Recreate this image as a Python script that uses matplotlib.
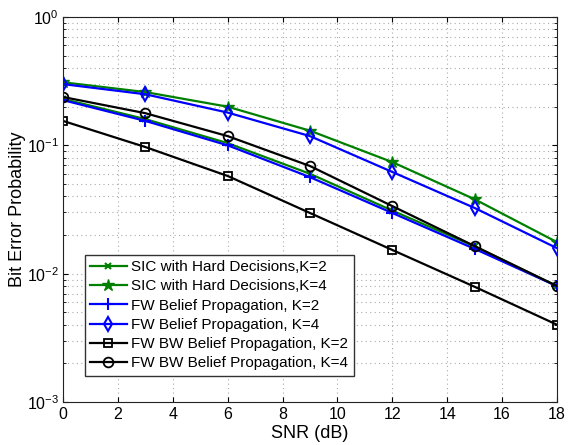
import matplotlib
matplotlib.use("Agg")
import matplotlib.pyplot as plt
from matplotlib.ticker import LogLocator, NullFormatter

plt.rcParams['font.family'] = ['Liberation Sans', 'DejaVu Sans']
plt.rcParams['mathtext.fontset'] = 'custom'
plt.rcParams['mathtext.rm'] = 'Liberation Sans'

snr = [0, 3, 6, 9, 12, 15, 18]
sic_k2 = [0.23, 0.16, 0.104, 0.060, 0.031, 0.0163, 0.0080]
sic_k4 = [0.31, 0.26, 0.20, 0.13, 0.074, 0.038, 0.0176]
fw_k2 = [0.225, 0.155, 0.100, 0.0565, 0.0297, 0.0156, 0.0080]
fw_k4 = [0.30, 0.25, 0.18, 0.118, 0.062, 0.0325, 0.0158]
fwbw_k2 = [0.155, 0.097, 0.0577, 0.0297, 0.0153, 0.0079, 0.0040]
fwbw_k4 = [0.238, 0.178, 0.118, 0.069, 0.0336, 0.0164, 0.0080]

labels = ["SIC with Hard Decisions,K=2", "SIC with Hard Decisions,K=4",
          "FW Belief Propagation, K=2", "FW Belief Propagation, K=4",
          "FW BW Belief Propagation, K=2", "FW BW Belief Propagation, K=4"]

fig = plt.figure(figsize=(5.68, 4.45), dpi=100)
ax = fig.add_axes([63/568, 1-402/445, (557-63)/568, (402-17)/445])

green = '#008000'
blue = '#0000ff'
lw = 1.6
ax.plot(snr, sic_k2, color=green, lw=lw, marker='x', ms=4, mew=1.5, label=labels[0])
ax.plot(snr, sic_k4, color=green, lw=lw, marker='*', ms=9, label=labels[1])
ax.plot(snr, fw_k2, color=blue, lw=lw, marker='+', ms=8, mew=1.5, label=labels[2])
ax.plot(snr, fw_k4, color=blue, lw=lw, marker='d', ms=7, mfc='none', mew=1.5, label=labels[3])
ax.plot(snr, fwbw_k2, color='black', lw=lw, marker='s', ms=6, mfc='none', mew=1.3, label=labels[4])
ax.plot(snr, fwbw_k4, color='black', lw=lw, marker='o', ms=7, mfc='none', mew=1.3, label=labels[5])

ax.set_yscale('log')
ax.set_xlim(0, 18)
ax.set_ylim(1e-3, 1)
ax.set_xticks(range(0, 19, 2))
ax.yaxis.set_major_locator(LogLocator(base=10, numticks=10))
ax.yaxis.set_minor_locator(LogLocator(base=10, subs=range(2, 10), numticks=20))
ax.yaxis.set_minor_formatter(NullFormatter())
ax.tick_params(which='both', direction='in', top=True, right=True, labelsize=11.5)
ax.tick_params(axis='y', pad=3)
gstyle = dict(ls=(0, (1, 3)), color='#aaaaaa', lw=0.8)
ax.grid(True, which='major', **gstyle)
ax.grid(True, which='minor', axis='y', **gstyle)
ax.set_xlabel('SNR (dB)', fontsize=13, labelpad=2)
ax.set_ylabel('Bit Error Probability', fontsize=13)
ax.yaxis.set_label_coords(-0.075, 0.5)
for s in ax.spines.values():
    s.set_color('#222222')

leg = ax.legend(loc='upper left', bbox_to_anchor=(0.044, 0.382), fontsize=11,
                frameon=True, fancybox=False, edgecolor='#333333', framealpha=1,
                handlelength=2.4, handletextpad=0.3, borderpad=0.35, labelspacing=0.34,
                borderaxespad=0)
leg.get_frame().set_linewidth(1.0)

fig.savefig('out.png', dpi=100)
